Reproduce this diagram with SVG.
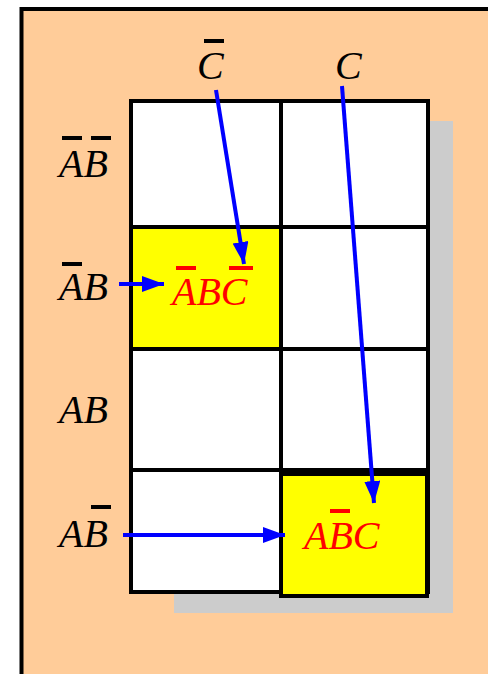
<svg xmlns="http://www.w3.org/2000/svg" width="488" height="674" viewBox="0 0 488 674">
<defs>
<style>
.t{font-family:"Liberation Serif","Times New Roman",serif;font-style:italic;font-size:40px;fill:#000}
.r{fill:#f00}
.cell{fill:#fff;stroke:#000;stroke-width:4}
.hl{fill:#ff0;stroke:#000;stroke-width:4}
.conn{stroke:#00f;stroke-width:4;fill:none}
.bar{fill:#000}
.rbar{fill:#f00}
</style>
<marker id="ah" markerUnits="userSpaceOnUse" markerWidth="24" markerHeight="18" refX="22" refY="8" orient="auto">
<path d="M0,0 L22,8 L0,16 z" fill="#00f"/>
</marker>
</defs>
<rect x="21.5" y="9" width="520" height="700" fill="#fc9" stroke="#000" stroke-width="4"/>
<rect x="174" y="121" width="279" height="492" fill="#ccc"/>
<g id="grid">
<rect class="cell" x="131" y="101" width="297" height="491"/>
<rect class="hl" x="131" y="227" width="150" height="122"/>
<line x1="281" y1="101" x2="281" y2="592" stroke="#000" stroke-width="4"/>
<line x1="131" y1="227" x2="428" y2="227" stroke="#000" stroke-width="4"/>
<line x1="131" y1="349" x2="428" y2="349" stroke="#000" stroke-width="4"/>
<line x1="131" y1="470" x2="428" y2="470" stroke="#000" stroke-width="4"/>
<rect class="hl" x="281" y="474" width="146" height="122"/>
</g>
<g id="label-Cbar"><text class="t" x="197" y="79">C</text><rect class="bar" x="204" y="39" width="20" height="4"/></g>
<g id="label-C"><text class="t" x="335" y="79">C</text></g>
<g id="label-row1"><text class="t" x="59" y="177">AB</text><rect class="bar" x="62" y="136" width="20" height="4"/><rect class="bar" x="91" y="136" width="20" height="4"/></g>
<g id="label-row2"><text class="t" x="59" y="300">AB</text><rect class="bar" x="62" y="262" width="20" height="4"/></g>
<g id="label-row3"><text class="t" x="59" y="423">AB</text></g>
<g id="label-row4"><text class="t" x="59" y="547">AB</text><rect class="bar" x="91" y="505" width="20" height="4"/></g>
<g id="term1"><text class="t r" x="172" y="305">ABC</text><rect class="rbar" x="176" y="266" width="20" height="4"/><rect class="rbar" x="229" y="266" width="24" height="4"/></g>
<g id="term2"><text class="t r" x="304" y="549">ABC</text><rect class="rbar" x="330" y="509" width="20" height="4"/></g>
<g id="connectors">
<line class="conn" x1="216" y1="90" x2="244" y2="264" marker-end="url(#ah)"/>
<line class="conn" x1="342" y1="86" x2="374" y2="503" marker-end="url(#ah)"/>
<line class="conn" x1="119" y1="284" x2="164" y2="284" marker-end="url(#ah)"/>
<line class="conn" x1="123" y1="535" x2="285" y2="535" marker-end="url(#ah)"/>
</g>
</svg>
